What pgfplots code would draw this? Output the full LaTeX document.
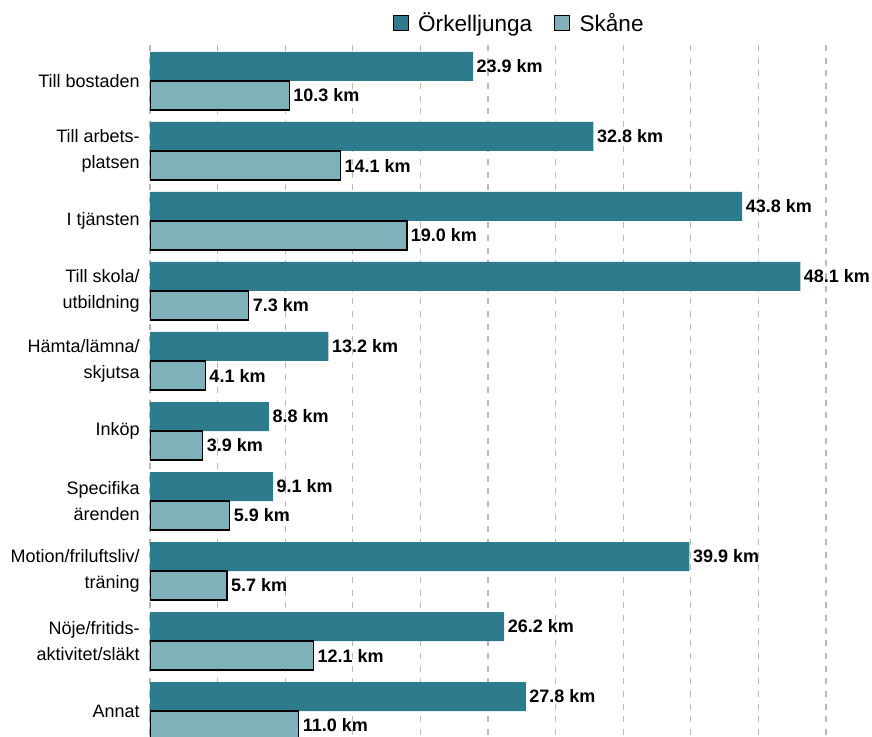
\documentclass[border=0pt]{standalone}
\usepackage{pgfplots}
\pgfplotsset{compat=1.18}
\usepackage{fontspec}
\setmainfont{Liberation Sans}
\definecolor{darkc}{RGB}{47,123,142}
\definecolor{lightc}{RGB}{127,177,186}
\begin{document}
\begin{tikzpicture}
\begin{axis}[
  at={(0,0)}, anchor=south west,
  scale only axis,
  width=507pt, height=519pt,
  xbar, bar width=21.75pt,
  xmin=0, xmax=50,
  ymin=-0.514, ymax=9.371,
  y dir=reverse,
  axis line style={draw=none},
  xtick={0,5,...,50}, xticklabels={},
  xmajorgrids,
  grid style={gray!55, line width=0.9pt, dash pattern=on 4.5pt off 5pt},
  major tick length=0pt,
  ytick={0,...,9},
  yticklabels={Till bostaden,{Till arbets-\\platsen},I tjänsten,{Till skola/\\utbildning},{Hämta/lämna/\\skjutsa},Inköp,{Specifika\\ärenden},{Motion/friluftsliv/\\träning},{Nöje/fritids-\\aktivitet/släkt},Annat},
  yticklabel style={align=right, font=\fontsize{13.5}{19.5}\selectfont, inner sep=0pt, xshift=-7.5pt},
  nodes near coords={\pgfmathprintnumber[fixed,fixed zerofill,precision=1,assume math mode=true]{\pgfplotspointmeta}~km},
  every node near coord/.append style={font=\fontsize{13.5}{16}\selectfont\bfseries, anchor=west, inner sep=2.5pt, text=black},
  legend style={at={(axis description cs:0.3595,1.0318)}, anchor=west, draw=none, fill=none, inner sep=0pt,
    legend columns=2, font=\fontsize{16.9}{20}\selectfont,
    /tikz/every even column/.append style={column sep=14pt}},
  legend image code/.code={\draw[#1] (0pt,-5.6pt) rectangle (11.25pt,5.6pt); \path (16.5pt,0pt);},
]
\addplot[fill=darkc, draw=none, bar shift=10.875pt] coordinates {
(23.9,0) (32.8,1) (43.8,2) (48.1,3) (13.2,4) (8.8,5) (9.1,6) (39.9,7) (26.2,8) (27.8,9)};
\addlegendentry{Örkelljunga}
\addplot[fill=lightc, draw=black, line width=1.1pt, bar shift=-10.875pt] coordinates {
(10.3,0) (14.1,1) (19.0,2) (7.3,3) (4.1,4) (3.9,5) (5.9,6) (5.7,7) (12.1,8) (11.0,9)};
\addlegendentry{Skåne}
\end{axis}
\pgfresetboundingbox
\useasboundingbox (-112.5pt,0pt) rectangle (541.5pt,552.75pt);
\end{tikzpicture}
\end{document}
